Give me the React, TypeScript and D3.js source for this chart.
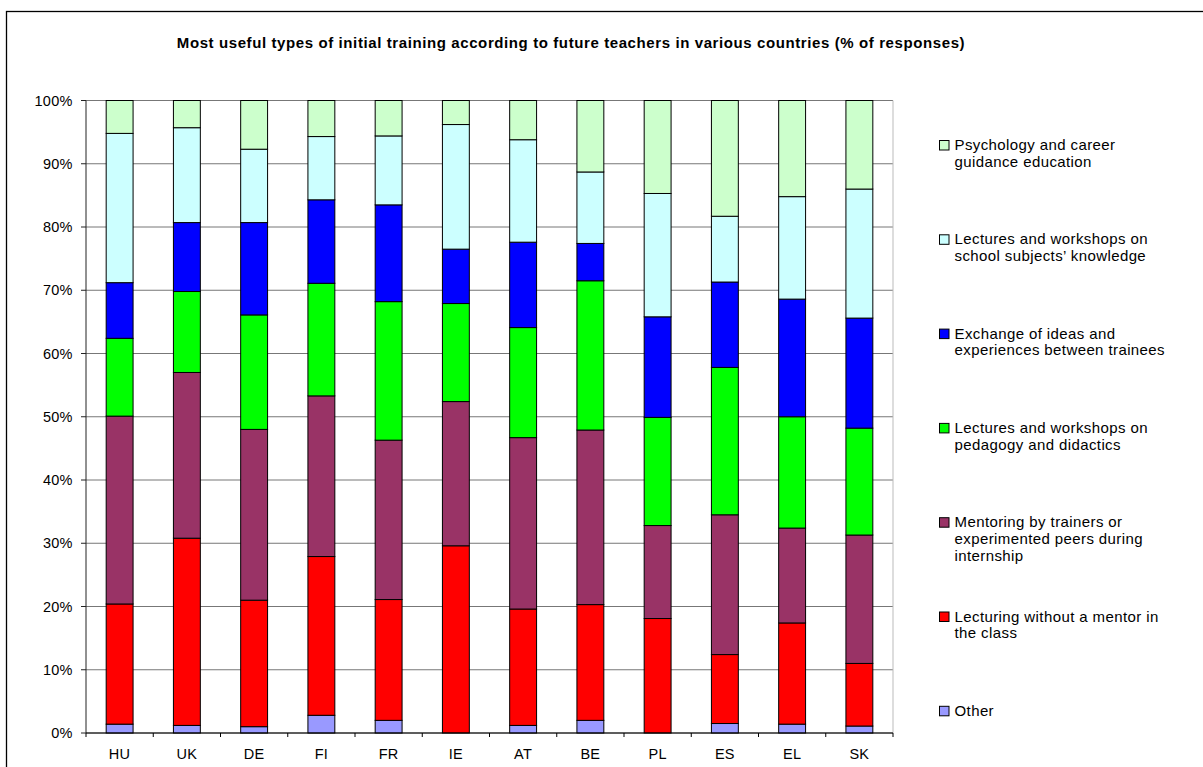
import React from "react";
import * as d3 from "d3";

const categories = ["HU", "UK", "DE", "FI", "FR", "IE", "AT", "BE", "PL", "ES", "EL", "SK"];
const other = [1.4, 1.2, 1.0, 2.8, 2.0, 0, 1.2, 2.0, 0, 1.5, 1.4, 1.1];
const lecturing = [19.0, 29.6, 20.0, 25.1, 19.1, 29.6, 18.4, 18.3, 18.1, 10.9, 16.0, 9.9];
const mentoring = [29.7, 26.2, 27.0, 25.4, 25.2, 22.8, 27.1, 27.6, 14.7, 22.1, 15.0, 20.3];
const pedagogy = [12.3, 12.8, 18.1, 17.8, 21.9, 15.5, 17.4, 23.6, 17.1, 23.3, 17.6, 16.9];
const exchange = [8.8, 10.9, 14.6, 13.2, 15.3, 8.6, 13.5, 5.9, 15.9, 13.5, 18.6, 17.4];
const school = [23.6, 15.0, 11.6, 10.0, 10.9, 19.7, 16.2, 11.3, 19.5, 10.4, 16.2, 20.4];
const psychology = [5.2, 4.3, 7.7, 5.7, 5.6, 3.8, 6.2, 11.3, 14.7, 18.3, 15.2, 14.0];

const seriesKeys = ["other", "lecturing", "mentoring", "pedagogy", "exchange", "school", "psychology"];
const seriesValues = [other, lecturing, mentoring, pedagogy, exchange, school, psychology];
const seriesColors = ["#9999FF", "#FF0000", "#993366", "#00FF00", "#0000FF", "#CCFFFF", "#CCFFCC"];
const seriesLabels = [
  ["Other"],
  ["Lecturing without a mentor in", "the class"],
  ["Mentoring by trainers or", "experimented peers during", "internship"],
  ["Lectures and workshops on", "pedagogy and didactics"],
  ["Exchange of ideas and", "experiences between trainees"],
  ["Lectures and workshops on", "school subjects\u2019 knowledge"],
  ["Psychology and career", "guidance education"],
];
const yTicks = [0, 0.1, 0.2, 0.3, 0.4, 0.5, 0.6, 0.7, 0.8, 0.9, 1.0];
const title = "Most useful types of initial training according to future teachers in various countries (% of responses)";

const W = 1203;
const H = 767;
const plot = { left: 86, right: 893, top: 100.5, bottom: 733 };
const FONT = "'Liberation Sans', Arial, Helvetica, sans-serif";

export default function App() {
  const rows = categories.map((c, i) => {
    const r: any = { cat: c };
    seriesKeys.forEach((k, j) => (r[k] = seriesValues[j][i]));
    return r;
  });
  const stacked = d3.stack().keys(seriesKeys).offset(d3.stackOffsetExpand)(rows);
  const x = d3
    .scaleBand()
    .domain(categories)
    .range([plot.left, plot.right])
    .paddingInner(0.6)
    .paddingOuter(0.3);
  const y = d3.scaleLinear().domain([0, 1]).range([plot.bottom, plot.top]);
  const step = x.step();
  const fmt = d3.format(".0%");

  const legendOrder = seriesKeys.map((_, i) => seriesKeys.length - 1 - i);

  return (
    <svg
      width={W}
      height={H}
      style={{ position: "absolute", left: 0, top: 0, background: "#fff" }}
      fontFamily={FONT}
    >
      <rect x={0} y={0} width={W} height={H} fill="#fff" />
      <rect x={6.5} y={11.5} width={W + 10} height={H + 10} fill="none" stroke="#000" strokeWidth={1.3} />
      <text x={571} y={47.5} textAnchor="middle" fontSize={15} letterSpacing={0.6} fontWeight="bold" fill="#000">
        {title}
      </text>

      {yTicks.map((t) => (
        <line key={t} x1={plot.left} x2={plot.right} y1={y(t)} y2={y(t)} stroke="#777" strokeWidth={1} />
      ))}
      <line x1={plot.right} x2={plot.right} y1={plot.top} y2={plot.bottom} stroke="#bbb" strokeWidth={1} />

      {stacked.map((s, j) => (
        <g key={s.key} fill={seriesColors[j]} stroke="#000" strokeWidth={1}>
          {s.map((d, i) => {
            const h = y(d[0]) - y(d[1]);
            if (h <= 0.01) return null;
            return (
              <rect
                key={i}
                x={x(categories[i]) as number}
                y={y(d[1])}
                width={x.bandwidth()}
                height={h}
              />
            );
          })}
        </g>
      ))}

      <line x1={plot.left} x2={plot.left} y1={plot.top} y2={plot.bottom} stroke="#222" strokeWidth={1} />
      {yTicks.map((t) => (
        <g key={t}>
          <line x1={plot.left - 5} x2={plot.left} y1={y(t)} y2={y(t)} stroke="#222" strokeWidth={1} />
          <text x={72.5} y={y(t) + 5} textAnchor="end" fontSize={14.5} letterSpacing={0.2} fill="#000">
            {fmt(t)}
          </text>
        </g>
      ))}

      <line x1={plot.left} x2={plot.right} y1={plot.bottom} y2={plot.bottom} stroke="#000" strokeWidth={1} />
      {d3.range(categories.length + 1).map((i) => (
        <line
          key={i}
          x1={plot.left + i * step}
          x2={plot.left + i * step}
          y1={plot.bottom}
          y2={plot.bottom + 4}
          stroke="#000"
          strokeWidth={1}
        />
      ))}
      {categories.map((c) => (
        <text
          key={c}
          x={(x(c) as number) + x.bandwidth() / 2}
          y={759}
          textAnchor="middle"
          fontSize={14.5}
          letterSpacing={0.3}
          fill="#000"
        >
          {c}
        </text>
      ))}

      {legendOrder.map((j, idx) => {
        const base = 150 + idx * 94.3;
        return (
          <g key={seriesKeys[j]}>
            <rect x={939.5} y={base - 9.5} width={9.5} height={9.5} fill={seriesColors[j]} stroke="#000" strokeWidth={1} />
            <text fontSize={15} letterSpacing={0.4} fill="#000">
              {seriesLabels[j].map((ln, k) => (
                <tspan key={k} x={954.5} y={base + k * 16.8}>
                  {ln}
                </tspan>
              ))}
            </text>
          </g>
        );
      })}
    </svg>
  );
}
